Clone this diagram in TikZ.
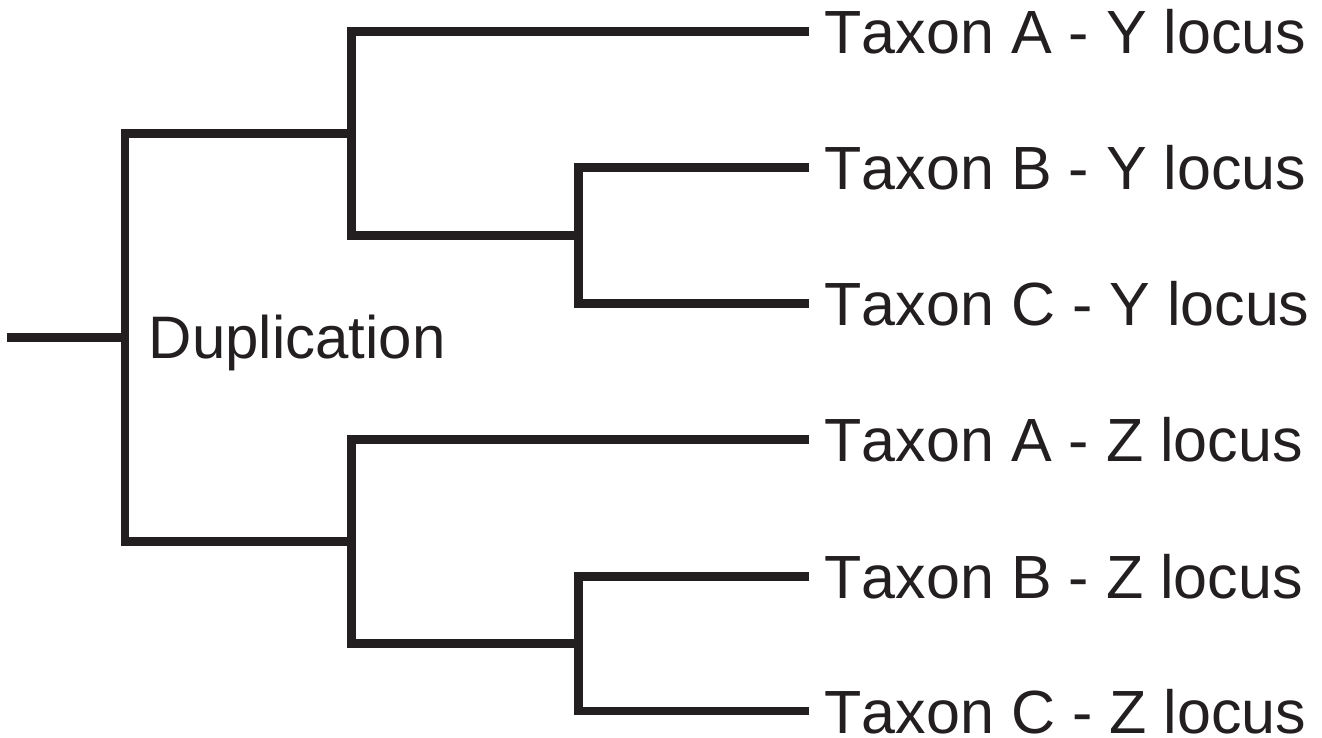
\documentclass[tikz,border=0pt]{standalone}
\usepackage{fontspec}
\setmainfont{Liberation Sans}[Kerning=Off]
\definecolor{ink}{HTML}{231F20}
\begin{document}
\begin{tikzpicture}[x=1pt,y=-1pt,
  branch/.style={draw=ink,line width=8.6pt,line cap=butt,line join=miter},
  leaflabel/.style={anchor=base west,inner sep=0pt,text depth=0pt,text=ink,font=\fontsize{61}{72}\selectfont},
  evlabel/.style={anchor=base west,inner sep=0pt,text depth=0pt,text=ink,font=\fontsize{60}{72}\selectfont}]
\useasboundingbox (0,0) rectangle (1322,738);
% internal nodes
\coordinate (r0) at (7,337.3);
\coordinate (r) at (125,337.3);
\coordinate (U) at (351.7,133.8);
\coordinate (L) at (351.7,541.7);
\coordinate (UB) at (578.3,235.7);
\coordinate (LB) at (578.3,643.5);
% leaf ends
\coordinate (eAY) at (809,31.7);
\coordinate (eBY) at (809,167.7);
\coordinate (eCY) at (809,303.7);
\coordinate (eAZ) at (809,439.5);
\coordinate (eBZ) at (809,576.3);
\coordinate (eCZ) at (809,711);
% labels
\node[leaflabel] (AY) at (824.5,53.5) {Taxon A - Y locus};
\node[leaflabel] (BY) at (824.5,189.5) {Taxon B - Y locus};
\node[leaflabel] (CY) at (824.5,325.5) {Taxon C - Y locus};
\node[leaflabel] (AZ) at (824.5,461.3) {Taxon A - Z locus};
\node[leaflabel] (BZ) at (824.5,598.1) {Taxon B - Z locus};
\node[leaflabel] (CZ) at (824.5,733) {Taxon C - Z locus};
\node[evlabel] (dup) at (148.5,358) {Duplication};
% branches
\draw[branch] (r0) -- (r);
\draw[branch] (U) -| (r) |- (L);
\draw[branch] (eAY) -| (U) |- (UB);
\draw[branch] (eBY) -| (UB) |- (eCY);
\draw[branch] (eAZ) -| (L) |- (LB);
\draw[branch] (eBZ) -| (LB) |- (eCZ);
\end{tikzpicture}
\end{document}
